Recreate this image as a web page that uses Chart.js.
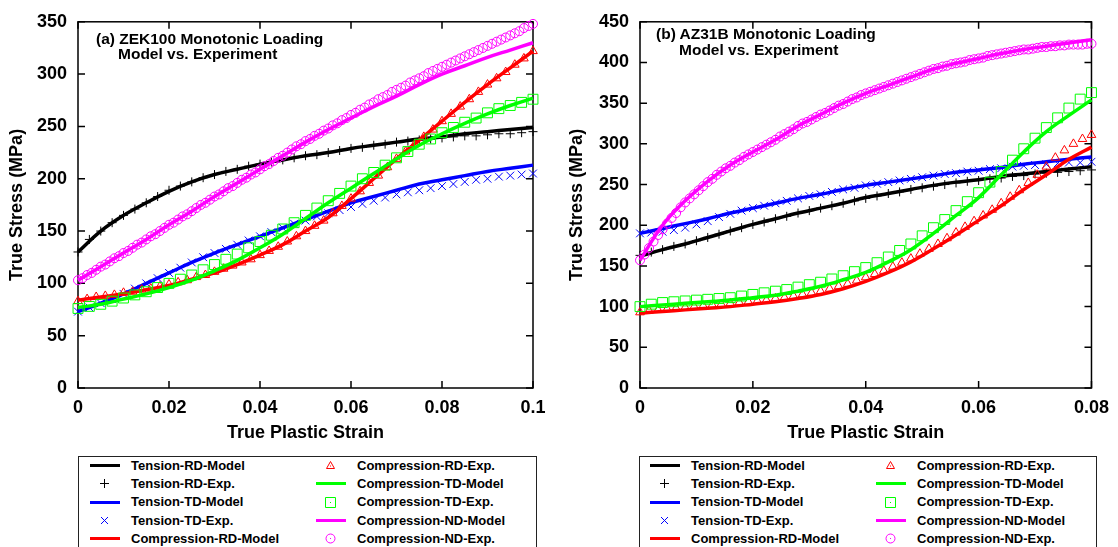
<!DOCTYPE html>
<html>
<head>
<meta charset="utf-8">
<title>Monotonic Loading</title>
<script src="https://cdn.jsdelivr.net/npm/chart.js@4.4.1/dist/chart.umd.min.js"></script>
<style>
body { margin: 0; background: #fff; }
#pagina { position: relative; width: 1118px; height: 547px; overflow: hidden; background: #fff;
  font-family: "Liberation Sans", Arial, Helvetica, sans-serif; font-weight: bold; color: #000; }
canvas.grafico { position: absolute; top: 0; }
.nota { position: absolute; font-size: 15.5px; line-height: 16px; white-space: nowrap; }
.legenda { position: absolute; top: 456px; height: 120px; border: 1px solid #222; box-sizing: border-box; }
.item { position: absolute; font-size: 13px; line-height: 18px; white-space: nowrap; }
.icone { position: absolute; }
</style>
</head>
<body>
<div id="pagina">
  <canvas class="grafico" id="graficoZEK" width="559" height="450" style="left:0"></canvas>
  <canvas class="grafico" id="graficoAZ" width="559" height="450" style="left:559px"></canvas>
  <div class="nota" style="left:96px; top:31px">(a) ZEK100 Monotonic Loading</div>
  <div class="nota" style="left:118px; top:46px">Model vs. Experiment</div>
  <div class="nota" style="left:656px; top:26px">(b) AZ31B Monotonic Loading</div>
  <div class="nota" style="left:679px; top:42px">Model vs. Experiment</div>
  <div class="legenda" style="left:78px; width:459px"></div>
  <div class="legenda" style="left:639px; width:458px"></div>
</div>
<script>
var nomesSeries = ['Tension-RD-Model', 'Tension-RD-Exp.', 'Tension-TD-Model', 'Tension-TD-Exp.',
    'Compression-RD-Model', 'Compression-RD-Exp.', 'Compression-TD-Model', 'Compression-TD-Exp.',
    'Compression-ND-Model', 'Compression-ND-Exp.'];

// ZEK100 - modelo
var deformacaoModeloA = [0, 0.005, 0.01, 0.015, 0.02, 0.025, 0.03, 0.035, 0.04, 0.045, 0.05,
    0.055, 0.06, 0.065, 0.07, 0.075, 0.08, 0.085, 0.09, 0.095, 0.1];
var tRDModA = [130, 150, 165, 177, 188, 197, 204, 209, 214, 218, 222, 225, 229, 232, 235, 238, 240, 243, 245, 247, 249];
var tTDModA = [73, 81, 90, 100, 110, 120, 129, 137, 145, 153, 161, 169, 177, 183, 189, 195, 199, 203, 207, 210, 213];
var cRDModA = [84, 87, 90, 94, 98, 104, 110, 118, 127, 137, 150, 163, 181, 200, 219, 237, 255, 273, 290, 306, 322];
var cTDModA = [77, 80, 85, 90, 96, 103, 112, 122, 134, 147, 162, 177, 191, 205, 219, 232, 243, 253, 262, 270, 277];
var cNDModA = [103, 116, 129, 142, 156, 169, 183, 196, 209, 222, 235, 247, 258, 269, 279, 290, 300, 308, 316, 323, 330];

// ZEK100 - experimento
var deformacaoExpA = [0, 0.0025, 0.005, 0.0075, 0.01, 0.0125, 0.015, 0.0175, 0.02, 0.0225, 0.025,
    0.0275, 0.03, 0.0325, 0.035, 0.0375, 0.04, 0.0425, 0.045, 0.0475, 0.05, 0.0525, 0.055, 0.0575,
    0.06, 0.0625, 0.065, 0.0675, 0.07, 0.0725, 0.075, 0.0775, 0.08, 0.0825, 0.085, 0.0875, 0.09,
    0.0925, 0.095, 0.0975, 0.1];
var tRDExpA = [130, 142, 150, 158, 165, 171, 177, 183, 189, 193, 197, 201, 204, 207, 209, 212, 214, 216, 218, 220,
    222, 223, 225, 227, 229, 230, 232, 233, 235, 236, 237, 238, 239, 240, 241, 241, 242, 243, 243, 244, 245];
var tTDExpA = [73, 77, 81, 85, 90, 95, 100, 105, 110, 115, 120, 125, 129, 133, 137, 141, 145, 149, 153, 157,
    160, 164, 167, 170, 173, 176, 179, 182, 185, 187, 189, 191, 193, 195, 197, 199, 200, 202, 203, 204, 205];
var cTDExpA = [76, 78, 80, 83, 86, 89, 92, 96, 100, 104, 108, 113, 118, 123, 128, 134, 140, 146, 152, 158,
    165, 172, 179, 186, 193, 200, 206, 213, 220, 226, 233, 238, 244, 249, 254, 258, 263, 267, 270, 273, 276];
var deformacaoTriA = [0, 0.002, 0.004, 0.006, 0.008, 0.01, 0.012, 0.014, 0.016, 0.018, 0.02,
    0.022, 0.024, 0.026, 0.028, 0.03, 0.032, 0.034, 0.036, 0.038, 0.04, 0.042, 0.044, 0.046, 0.048,
    0.05, 0.052, 0.054, 0.056, 0.058, 0.06, 0.062, 0.064, 0.066, 0.068, 0.07, 0.072, 0.074, 0.076,
    0.078, 0.08, 0.082, 0.084, 0.086, 0.088, 0.09, 0.092, 0.094, 0.096, 0.098, 0.1];
var cRDExpA = [83, 85, 87, 88, 89, 91, 92, 94, 95, 97, 99, 101, 103, 106, 108, 111, 114, 117, 120, 123,
    127, 131, 135, 140, 145, 150, 155, 160, 167, 174, 181, 188, 196, 203, 211, 219, 226, 233, 240, 247,
    255, 262, 269, 276, 283, 290, 296, 302, 309, 315, 322];
var deformacaoCircA = [0, 0.001, 0.002, 0.003, 0.004, 0.005, 0.006, 0.007, 0.008, 0.009,
    0.01, 0.011, 0.012, 0.013, 0.014, 0.015, 0.016, 0.017, 0.018, 0.019,
    0.02, 0.021, 0.022, 0.023, 0.024, 0.025, 0.026, 0.027, 0.028, 0.029,
    0.03, 0.031, 0.032, 0.033, 0.034, 0.035, 0.036, 0.037, 0.038, 0.039,
    0.04, 0.041, 0.042, 0.043, 0.044, 0.045, 0.046, 0.047, 0.048, 0.049,
    0.05, 0.051, 0.052, 0.053, 0.054, 0.055, 0.056, 0.057, 0.058, 0.059,
    0.06, 0.061, 0.062, 0.063, 0.064, 0.065, 0.066, 0.067, 0.068, 0.069,
    0.07, 0.071, 0.072, 0.073, 0.074, 0.075, 0.076, 0.077, 0.078, 0.079,
    0.08, 0.081, 0.082, 0.083, 0.084, 0.085, 0.086, 0.087, 0.088, 0.089,
    0.09, 0.091, 0.092, 0.093, 0.094, 0.095, 0.096, 0.097, 0.098, 0.099, 0.1];
var cNDExpA = [103, 105, 108, 110, 113, 116, 118, 121, 124, 126,
    129, 131, 134, 137, 139, 142, 145, 147, 150, 153,
    156, 158, 161, 164, 166, 169, 172, 175, 177, 180,
    183, 185, 188, 191, 193, 196, 199, 201, 204, 206,
    209, 212, 214, 217, 220, 222, 225, 228, 231, 233,
    236, 238, 241, 243, 246, 248, 251, 253, 256, 258,
    261, 263, 266, 268, 271, 273, 276, 278, 280, 283,
    285, 287, 289, 292, 294, 296, 298, 301, 303, 305,
    307, 309, 311, 313, 315, 317, 319, 321, 323, 325,
    327, 329, 331, 333, 335, 337, 339, 341, 344, 346, 348];

// AZ31B - modelo
var deformacaoModeloB = [0, 0.004, 0.008, 0.012, 0.016, 0.02, 0.024, 0.028, 0.032, 0.036, 0.04,
    0.044, 0.048, 0.052, 0.056, 0.06, 0.064, 0.068, 0.072, 0.076, 0.08];
var tRDModB = [162, 170, 177, 185, 193, 201, 208, 215, 221, 227, 234, 239, 244, 249, 253, 256, 260, 263, 266, 269, 272];
var tTDModB = [190, 196, 202, 208, 215, 221, 227, 233, 238, 244, 249, 253, 257, 261, 265, 268, 271, 275, 278, 281, 284];
var cRDModB = [92, 94, 96, 98, 100, 103, 106, 110, 115, 122, 131, 142, 155, 171, 188, 206, 224, 244, 262, 281, 296];
var cTDModB = [100, 102, 104, 106, 108, 111, 114, 119, 125, 133, 142, 155, 170, 190, 212, 234, 262, 290, 315, 335, 354];
var cNDModB = [157, 200, 230, 254, 274, 290, 305, 322, 336, 350, 362, 372, 382, 392, 399, 405, 411, 416, 420, 424, 428];

// AZ31B - experimento
var deformacaoExpB = [0, 0.002, 0.004, 0.006, 0.008, 0.01, 0.012, 0.014, 0.016, 0.018, 0.02,
    0.022, 0.024, 0.026, 0.028, 0.03, 0.032, 0.034, 0.036, 0.038, 0.04, 0.042, 0.044, 0.046, 0.048,
    0.05, 0.052, 0.054, 0.056, 0.058, 0.06, 0.062, 0.064, 0.066, 0.068, 0.07, 0.072, 0.074, 0.076,
    0.078, 0.08];
var tRDExpB = [163, 167, 170, 174, 177, 181, 185, 189, 193, 197, 201, 204, 208, 211, 215, 218, 221, 224, 227, 230,
    233, 236, 239, 241, 244, 246, 248, 250, 252, 254, 255, 257, 258, 260, 261, 263, 264, 265, 266, 267, 268];
var tTDExpB = [190, 191, 192, 194, 197, 201, 205, 210, 214, 218, 221, 224, 227, 230, 233, 236, 238, 241, 244, 246,
    249, 251, 253, 255, 257, 259, 261, 263, 264, 266, 267, 269, 270, 272, 273, 274, 275, 276, 277, 277, 278];
var cTDExpB = [100, 103, 105, 106, 107, 108, 109, 110, 111, 113, 115, 117, 119, 121, 124, 127, 130, 134, 138, 143,
    148, 154, 161, 169, 177, 187, 197, 207, 218, 229, 240, 253, 266, 280, 294, 307, 320, 332, 344, 355, 363];
var deformacaoTriB = [0, 0.0016, 0.0032, 0.0048, 0.0064, 0.008, 0.0096, 0.0112, 0.0128, 0.0144, 0.016,
    0.0176, 0.0192, 0.0208, 0.0224, 0.024, 0.0256, 0.0272, 0.0288, 0.0304, 0.032, 0.0336, 0.0352, 0.0368,
    0.0384, 0.04, 0.0416, 0.0432, 0.0448, 0.0464, 0.048, 0.0496, 0.0512, 0.0528, 0.0544, 0.056, 0.0576,
    0.0592, 0.0608, 0.0624, 0.064, 0.0656, 0.0672, 0.0688, 0.0704, 0.072, 0.0736, 0.0752, 0.0768, 0.0784, 0.08];
var cRDExpB = [93, 95, 96, 97, 98, 99, 100, 101, 102, 103, 104, 105, 106, 107, 108, 110, 111, 113, 115, 117,
    119, 122, 125, 128, 132, 136, 140, 144, 149, 154, 159, 165, 171, 177, 184, 191, 198, 205, 212, 219,
    227, 235, 243, 252, 262, 272, 283, 292, 300, 306, 311];
var deformacaoCircB = [0, 0.0008, 0.0016, 0.0024, 0.0032, 0.004, 0.0048, 0.0056, 0.0064, 0.0072,
    0.008, 0.0088, 0.0096, 0.0104, 0.0112, 0.012, 0.0128, 0.0136, 0.0144, 0.0152,
    0.016, 0.0168, 0.0176, 0.0184, 0.0192, 0.02, 0.0208, 0.0216, 0.0224, 0.0232,
    0.024, 0.0248, 0.0256, 0.0264, 0.0272, 0.028, 0.0288, 0.0296, 0.0304, 0.0312,
    0.032, 0.0328, 0.0336, 0.0344, 0.0352, 0.036, 0.0368, 0.0376, 0.0384, 0.0392,
    0.04, 0.0408, 0.0416, 0.0424, 0.0432, 0.044, 0.0448, 0.0456, 0.0464, 0.0472,
    0.048, 0.0488, 0.0496, 0.0504, 0.0512, 0.052, 0.0528, 0.0536, 0.0544, 0.0552,
    0.056, 0.0568, 0.0576, 0.0584, 0.0592, 0.06, 0.0608, 0.0616, 0.0624, 0.0632,
    0.064, 0.0648, 0.0656, 0.0664, 0.0672, 0.068, 0.0688, 0.0696, 0.0704, 0.0712,
    0.072, 0.0728, 0.0736, 0.0744, 0.0752, 0.076, 0.0768, 0.0776, 0.0784, 0.0792, 0.08];
var cNDExpB = [157, 164, 172, 180, 188, 195, 202, 209, 215, 222,
    228, 233, 238, 243, 248, 253, 257, 262, 266, 270,
    273, 277, 280, 284, 287, 290, 293, 296, 299, 302,
    305, 309, 312, 315, 318, 322, 325, 327, 330, 333,
    336, 338, 341, 344, 347, 349, 352, 355, 357, 360,
    362, 364, 366, 368, 370, 372, 374, 376, 378, 380,
    382, 384, 386, 388, 390, 392, 393, 395, 396, 398,
    399, 400, 401, 403, 404, 405, 406, 408, 409, 410,
    411, 412, 413, 414, 415, 416, 416, 417, 418, 419,
    419, 420, 420, 421, 421, 422, 422, 422, 422, 423, 423];

var cores = ['#000000', '#000000', '#0000ff', '#0000ff', '#ff0000', '#ff0000', '#00ff00', '#00ff00', '#ff00ff', '#ff00ff'];
var marcas = [null, 'mais', null, 'xis', null, 'triangulo', null, 'quadrado', null, 'circulo'];

// estilo do Chart.js e raio de cada marcador
var estilosChart = { mais: ['cross', 4.5], xis: ['crossRot', 5.5], triangulo: ['triangle', 5], quadrado: ['rect', 7], circulo: ['circle', 4.5] };

// marcador desenhado a mao, usado so na legenda
function criarMarcador(tipo, cor) {
    var c = document.createElement('canvas');
    c.width = 13;
    c.height = 13;
    var g = c.getContext('2d');
    g.strokeStyle = cor;
    g.fillStyle = cor;
    g.lineWidth = 1;
    g.beginPath();
    if (tipo === 'mais') {
        g.moveTo(6.5, 2); g.lineTo(6.5, 11);
        g.moveTo(2, 6.5); g.lineTo(11, 6.5);
    } else if (tipo === 'xis') {
        g.moveTo(3, 3); g.lineTo(10, 10);
        g.moveTo(10, 3); g.lineTo(3, 10);
    } else if (tipo === 'triangulo') {
        g.moveTo(6.5, 2.5); g.lineTo(10.5, 9.5); g.lineTo(2.5, 9.5); g.closePath();
    } else if (tipo === 'quadrado') {
        g.rect(1.5, 1.5, 10, 10);
    } else if (tipo === 'circulo') {
        g.arc(6.5, 6.5, 4.5, 0, 2 * Math.PI);
    }
    g.stroke();
    if (tipo === 'triangulo' || tipo === 'quadrado' || tipo === 'circulo') {
        g.fillRect(6, tipo === 'triangulo' ? 6.5 : 6, 1, 1);
    }
    return c;
}

function pontos(xs, ys) {
    return xs.map(function (x, i) { return { x: x, y: ys[i] }; });
}

function montarDatasets(listaX, listaY) {
    var ds = [];
    for (let i = 0; i < nomesSeries.length; i++) {
        var d = {
            label: nomesSeries[i],
            data: pontos(listaX[i], listaY[i]),
            borderColor: cores[i],
            backgroundColor: 'rgba(0,0,0,0)',
            order: 100 - i,
            clip: false
        };
        if (marcas[i]) {
            d.showLine = false;
            d.pointStyle = estilosChart[marcas[i]][0];
            d.pointRadius = estilosChart[marcas[i]][1];
            d.pointBorderWidth = 1;
        } else {
            d.showLine = true;
            d.pointRadius = 0;
            d.borderWidth = 3.5;
            d.tension = 0.4;
        }
        ds.push(d);
    }
    return ds;
}

// caixa do grafico com marcas de escala para dentro, como no gnuplot
var moldura = {
    id: 'moldura',
    beforeDatasetsDraw: function (chart) {
        var ctx = chart.ctx, a = chart.chartArea, sx = chart.scales.x, sy = chart.scales.y;
        ctx.save();
        ctx.strokeStyle = '#000';
        ctx.lineWidth = 1.5;
        ctx.beginPath();
        sx.ticks.forEach(function (t) {
            var px = sx.getPixelForValue(t.value);
            ctx.moveTo(px, a.bottom); ctx.lineTo(px, a.bottom - 7);
            ctx.moveTo(px, a.top); ctx.lineTo(px, a.top + 7);
        });
        sy.ticks.forEach(function (t) {
            var py = sy.getPixelForValue(t.value);
            ctx.moveTo(a.left, py); ctx.lineTo(a.left + 7, py);
            ctx.moveTo(a.right, py); ctx.lineTo(a.right - 7, py);
        });
        ctx.stroke();
        ctx.strokeRect(a.left, a.top, a.right - a.left, a.bottom - a.top);
        ctx.restore();
    }
};

function criarGrafico(id, listaX, listaY, xMax, yMax, larguraY, direita, padTitulo) {
    var fonte = { size: 18, weight: 'bold' };
    return new Chart(document.getElementById(id), {
        type: 'scatter',
        data: { datasets: montarDatasets(listaX, listaY) },
        plugins: [moldura],
        options: {
            responsive: false,
            animation: false,
            devicePixelRatio: 1,
            layout: { padding: { left: 0, right: direita, top: 17, bottom: 0 } },
            plugins: { legend: { display: false }, tooltip: { enabled: false } },
            scales: {
                x: {
                    type: 'linear', min: 0, max: xMax,
                    grid: { display: false, drawTicks: false },
                    border: { display: false },
                    ticks: {
                        stepSize: 0.02, padding: 9, color: '#000', font: fonte, maxRotation: 0,
                        callback: function (v) { return String(+v.toFixed(2)); }
                    },
                    title: { display: true, text: 'True Plastic Strain', color: '#000', font: fonte, padding: { top: 0, bottom: 6 } },
                    afterFit: function (s) { s.height = 62; }
                },
                y: {
                    min: 0, max: yMax,
                    grid: { display: false, drawTicks: false },
                    border: { display: false },
                    ticks: { stepSize: 50, padding: 11, color: '#000', font: fonte },
                    title: { display: true, text: 'True Stress (MPa)', color: '#000', font: fonte, padding: { top: padTitulo, bottom: 0 } },
                    afterFit: function (s) { s.width = larguraY; }
                }
            }
        }
    });
}

function criarLegenda(xLinha1, xTexto1, xLinha2, xTexto2) {
    var pagina = document.getElementById('pagina');
    var linhasY = [466, 484, 502.5, 521, 539];
    for (let i = 0; i < nomesSeries.length; i++) {
        var col = i < 5 ? 0 : 1;
        var cy = linhasY[i % 5];
        var cx = col === 0 ? xLinha1 : xLinha2;
        var ic = document.createElement('canvas');
        ic.width = 36;
        ic.height = 18;
        ic.className = 'icone';
        ic.style.left = (cx - 18) + 'px';
        ic.style.top = Math.round(cy - 9) + 'px';
        var g = ic.getContext('2d');
        if (marcas[i]) {
            g.drawImage(criarMarcador(marcas[i], cores[i]), 11, 2);
        } else {
            g.fillStyle = cores[i];
            g.fillRect(3, 7, 30, 3);
        }
        pagina.appendChild(ic);
        var tx = document.createElement('div');
        tx.className = 'item';
        tx.textContent = nomesSeries[i];
        tx.style.left = (col === 0 ? xTexto1 : xTexto2) + 'px';
        tx.style.top = (cy - 9.5) + 'px';
        pagina.appendChild(tx);
    }
}

criarGrafico('graficoZEK',
    [deformacaoModeloA, deformacaoExpA, deformacaoModeloA, deformacaoExpA, deformacaoModeloA,
     deformacaoTriA, deformacaoModeloA, deformacaoExpA, deformacaoModeloA, deformacaoCircA],
    [tRDModA, tRDExpA, tTDModA, tTDExpA, cRDModA, cRDExpA, cTDModA, cTDExpA, cNDModA, cNDExpA],
    0.1, 350, 78, 26, 6);

criarGrafico('graficoAZ',
    [deformacaoModeloB, deformacaoExpB, deformacaoModeloB, deformacaoExpB, deformacaoModeloB,
     deformacaoTriB, deformacaoModeloB, deformacaoExpB, deformacaoModeloB, deformacaoCircB],
    [tRDModB, tRDExpB, tTDModB, tTDExpB, cRDModB, cRDExpB, cTDModB, cTDExpB, cNDModB, cNDExpB],
    0.08, 450, 81, 22, 7);

criarLegenda(105, 131, 331, 357);
criarLegenda(665, 691, 891, 917);
</script>
</body>
</html>
